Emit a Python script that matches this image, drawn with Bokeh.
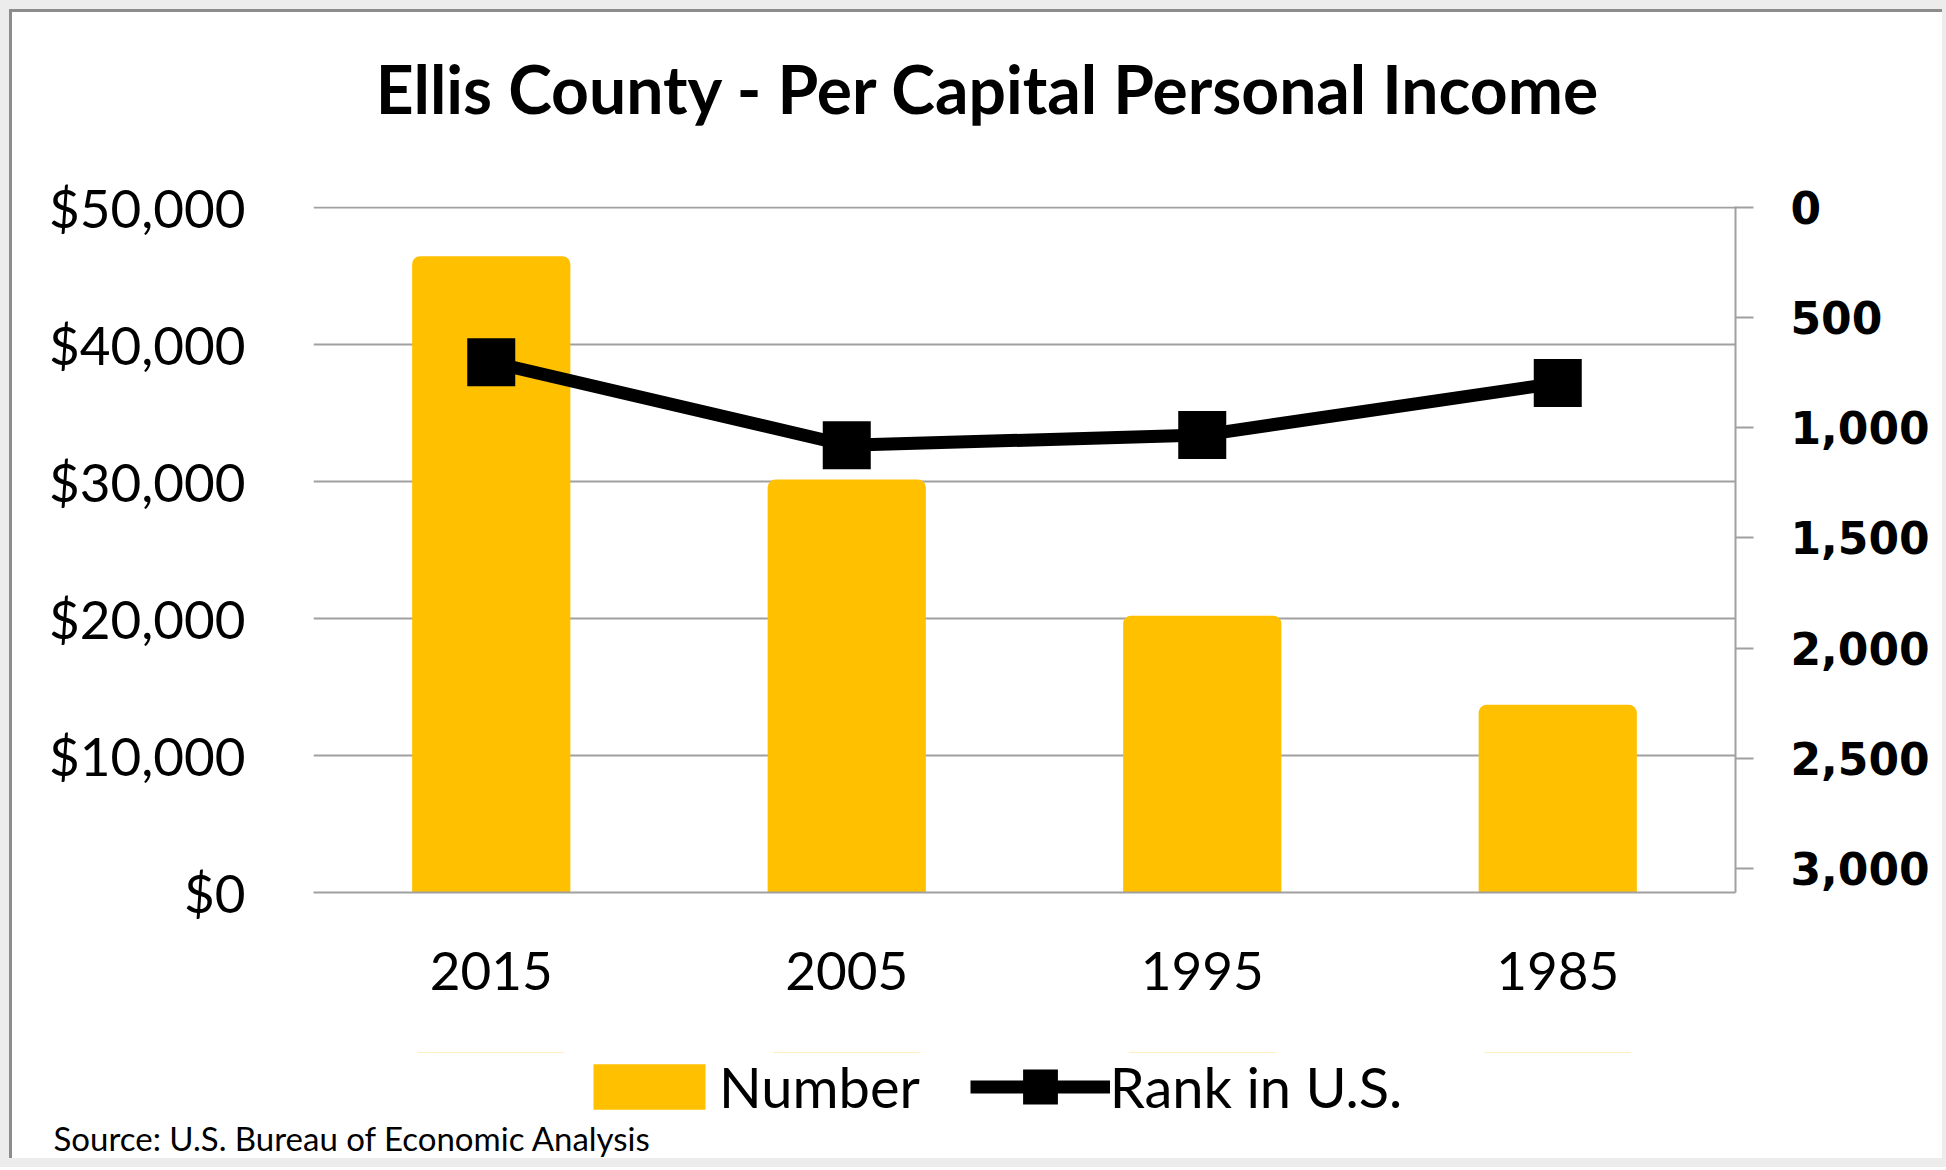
from bokeh.plotting import figure
from bokeh.layouts import column
from bokeh.models import (FactorRange, Range1d, LinearAxis, FixedTicker, NumeralTickFormatter,
                          Legend, LegendItem, Label, Title, ColumnDataSource)
from bokeh.embed import file_html
from bokeh.resources import INLINE

# ---- data ----
years = ["2015", "2005", "1995", "1985"]
income = [46450, 30150, 20200, 13700]
rank = [702, 1079, 1033, 797]
income_ticks = [0, 10000, 20000, 30000, 40000, 50000]
rank_ticks = [0, 500, 1000, 1500, 2000, 2500, 3000]
title_text = "Ellis County - Per Capital Personal Income"
source_text = "Source: U.S. Bureau of Economic Analysis"
series_names = ["Number", "Rank in U.S."]

GOLD = "#FFC000"
GRID = "#a0a0a0"
W = 1930
LEFT, RIGHT = 301, 207
FRAME_W = W - LEFT - RIGHT


def strip(h, x_range, bottom=0):
    f = figure(width=W, height=h, x_range=x_range, y_range=Range1d(0, h),
               output_backend="svg", toolbar_location=None,
               x_axis_location=None, y_axis_location=None,
               min_border_left=LEFT, min_border_right=RIGHT,
               min_border_top=0, min_border_bottom=bottom)
    f.outline_line_color = None
    f.grid.grid_line_color = None
    f.background_fill_color = "white"
    f.border_fill_color = "white"
    return f


# ---- title strip ----
top = strip(154, Range1d(0, FRAME_W))
top.add_layout(Label(x=675, y=78, text=title_text, text_align="center",
                     text_baseline="alphabetic", text_font="Lato", text_font_style="bold",
                     text_font_size="66px", text_color="black"))

# ---- main chart ----
src = ColumnDataSource(dict(year=years, income=income, rank=rank))
p = figure(width=W, height=886,
           x_range=FactorRange(*years, range_padding=0),
           y_range=Range1d(0, 50073),
           output_backend="svg", toolbar_location=None,
           min_border_left=LEFT, min_border_right=RIGHT,
           min_border_top=40, min_border_bottom=160)
p.extra_y_ranges = {"rank": Range1d(start=3109, end=-4.5)}
p.outline_line_color = None
p.background_fill_color = "white"
p.border_fill_color = "white"

bars = p.vbar(x="year", top="income", width=0.445, source=src,
              fill_color=GOLD, line_color=None, border_radius=(8, 8, 0, 0))
line = p.line(x="year", y="rank", source=src, y_range_name="rank",
              line_color="black", line_width=13)
pts = p.scatter(x="year", y="rank", source=src, y_range_name="rank",
                marker="square", size=30, fill_color="black", line_color="black",
                line_width=18, line_join="miter")

yax = p.yaxis[0]
yax.ticker = FixedTicker(ticks=income_ticks)
yax.formatter = NumeralTickFormatter(format="$0,0")
yax.axis_line_color = None
yax.major_tick_line_color = None
yax.minor_tick_line_color = None
yax.major_tick_out = 0
yax.major_tick_in = 0
yax.major_label_text_font = "Lato"
yax.major_label_text_font_size = "53px"
yax.major_label_text_color = "black"
yax.major_label_standoff = 68

p.ygrid.ticker = FixedTicker(ticks=income_ticks)
p.ygrid.grid_line_color = GRID
p.ygrid.grid_line_width = 2
p.xgrid.grid_line_color = None

xax = p.xaxis[0]
xax.axis_line_color = GRID
xax.axis_line_width = 2
xax.major_tick_line_color = None
xax.major_tick_out = 0
xax.major_tick_in = 0
xax.major_label_text_font = "Lato"
xax.major_label_text_font_size = "53px"
xax.major_label_text_color = "black"
xax.major_label_standoff = 59

ra = LinearAxis(y_range_name="rank", ticker=FixedTicker(ticks=rank_ticks),
                formatter=NumeralTickFormatter(format="0,0"))
ra.axis_line_color = GRID
ra.axis_line_width = 2
ra.major_tick_line_color = GRID
ra.major_tick_line_width = 2
ra.major_tick_in = 0
ra.major_tick_out = 18
ra.minor_tick_line_color = None
ra.major_label_text_font = "DejaVu Sans"
ra.major_label_text_font_style = "bold"
ra.major_label_text_font_size = "44px"
ra.major_label_text_color = "black"
ra.major_label_standoff = 37
p.add_layout(ra, "right")

# ---- legend + source strip ----
bot = strip(106, FactorRange(*years))
# legend samples: same series on ranges that keep the marks out of this strip's view
bot.extra_y_ranges = {"inc": Range1d(-200, -100), "rank": Range1d(-200, -100)}
lb = bot.vbar(x="year", top="income", width=0.445, source=src, y_range_name="inc",
              fill_color=GOLD, line_color=None, border_radius=(8, 8, 8, 8))
ll = bot.line(x="year", y="rank", source=src, y_range_name="rank",
              line_color="black", line_width=13)
lp = bot.scatter(x="year", y="rank", source=src, y_range_name="rank",
                 marker="square", size=30, fill_color="black", line_color="black",
                 line_width=12, line_join="miter")
leg = Legend(items=[LegendItem(label=series_names[0], renderers=[lb]),
                    LegendItem(label=series_names[1], renderers=[ll, lp])],
             orientation="horizontal", location=(266, -6),
             glyph_width=140, glyph_height=57, label_height=46,
             label_text_font="Lato", label_text_font_size="56px", label_text_color="black",
             label_standoff=0, spacing=50, padding=0, margin=0,
             border_line_color=None, background_fill_alpha=0)
bot.add_layout(leg, "center")
bot.add_layout(Title(text=source_text, align="left", offset=-260, standoff=2,
                     vertical_align="bottom", text_font="Lato", text_font_style="normal",
                     text_font_size="33px", text_color="black"), "below")

layout = column(top, p, bot, spacing=0)
layout.styles = {"margin": "9px 0 0 9px",
                 "border-top": "3px solid #8c8c8c", "border-left": "3px solid #8c8c8c",
                 "box-shadow": "0 0 0 9px #ececec"}

open("out.html", "w").write(file_html(layout, INLINE))
